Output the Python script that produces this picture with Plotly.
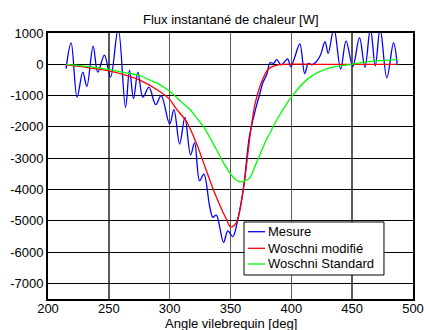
import plotly.graph_objects as go

# Mesure (blue)
mes_x = [214.8, 219, 223.9, 228.6, 231.9, 237.1, 240.9, 246.4, 251.4, 257.7, 263.7, 267, 270.3, 273.9,
         278, 283, 288.5, 293, 300, 303.5, 308.2, 312.5, 317.2, 320.5, 324.6, 328.1, 332.8, 335.5,
         338.3, 344.3, 347.8, 351.9, 356, 360.9, 365.6, 370.5, 374, 376.5, 380, 382.5, 385.5, 388,
         391.5, 394, 397, 399.5, 403, 407, 411, 414, 417, 420.5, 424, 427.7, 430.3, 435, 440.5,
         445, 450.5, 456, 460.5, 465, 469, 473, 478.5, 484, 487]
mes_y = [-140, 680, -1050, -250, -710, 580, -250, 290, -410, 1150, -1380, -190, -1100, -250,
         -1050, -730, -1290, -1000, -1910, -1450, -2550, -1700, -2900, -2500, -3720, -3510, -4520, -4890,
         -4820, -5690, -5320, -5510, -4950, -3880, -2290, -1450, -950, -600, -300, 50, 30, 150,
         -20, 60, 170, -80, 250, 650, -300, 30, -20, 80, 300, 720, 350, 1150, -150,
         750, -70, 850, -100, 1150, -50, 1150, -430, 680, 0]

# Woschni modifié (red)
mod_x = [215, 230, 250, 265, 275, 290, 300, 305, 314, 322, 329, 336, 343, 347, 350, 353, 356, 359,
         362, 366, 370, 375.6, 381, 386.6, 392, 420, 460, 487]
mod_y = [-20, -90, -210, -360, -500, -820, -1120, -1400, -1840, -2525, -3270, -4016, -4655, -4980,
         -5200, -5150, -4950, -4400, -3590, -2310, -1300, -555, -160, -45, 0, 0, 0, 0]

# Woschni Standard (green)
std_x = [215, 230, 249, 265, 275, 284, 290, 300, 311, 317, 323.5, 328, 338.6, 345, 349.6, 354,
         358.4, 362, 366, 370, 373, 379, 385, 388, 400, 414, 430, 449.6, 460.5, 467, 487]
std_y = [0, -60, -160, -280, -350, -510, -610, -860, -1250, -1460, -1780, -2000, -2740, -3200, -3480,
         -3680, -3760, -3720, -3620, -3270, -3000, -2450, -2000, -1780, -1050, -450, -130, 0, 70, 100, 160]

series_names = ["Mesure", "Woschni modifié", "Woschni Standard"]
series_colors = ["#0000ff", "#ff0000", "#00ff00"]

x_ticks = [200, 250, 300, 350, 400, 450, 500]
y_ticks = [1000, 0, -1000, -2000, -3000, -4000, -5000, -6000, -7000]

FONT = "Liberation Sans, Arial, sans-serif"

fig = go.Figure()
for (xs, ys, name, col, sm) in [(mes_x, mes_y, series_names[0], series_colors[0], 1.0),
                                (mod_x, mod_y, series_names[1], series_colors[1], 0.8),
                                (std_x, std_y, series_names[2], series_colors[2], 0.8)]:
    fig.add_trace(go.Scatter(x=xs, y=ys, mode="lines", name=name, showlegend=False,
                             line=dict(color=col, width=1.3, shape="spline", smoothing=sm)))

# custom compact legend (MATLAB style), in paper coordinates
shapes = [dict(type="rect", xref="paper", yref="paper", x0=0.537, x1=0.9205, y0=0.0902, y1=0.2895,
               line=dict(color="black", width=1), fillcolor="white", layer="above")]
annotations = [
    dict(text="Flux instantané de chaleur [W]", xref="paper", yref="paper", x=0.5, y=1,
         xanchor="center", yanchor="bottom", yshift=4, showarrow=False,
         font=dict(family=FONT, size=13, color="black")),
    dict(text="Angle vilebrequin [deg]", xref="paper", yref="paper", x=0.5, y=0,
         xanchor="center", yanchor="top", yshift=-15, showarrow=False,
         font=dict(family=FONT, size=13, color="black")),
]
row_y = [0.253, 0.1906, 0.1316]
for name, col, ry in zip(series_names, series_colors, row_y):
    shapes.append(dict(type="line", xref="paper", yref="paper", x0=0.5479, x1=0.5945, y0=ry, y1=ry,
                       line=dict(color=col, width=1.3), layer="above"))
    annotations.append(dict(text=name, xref="paper", yref="paper", x=0.598, y=ry,
                            xanchor="left", yanchor="middle", showarrow=False,
                            font=dict(family=FONT, size=13, color="black")))

fig.update_layout(
    width=424, height=330,
    margin=dict(l=48, r=11, t=33, b=31, autoexpand=False),
    paper_bgcolor="white", plot_bgcolor="white",
    font=dict(family=FONT, size=13, color="black"),
    showlegend=False,
    shapes=shapes,
    annotations=annotations,
)
fig.update_xaxes(range=[200, 500], tickvals=x_ticks, ticktext=[str(v) for v in x_ticks],
                 showgrid=True, gridcolor="#5a5a5a", gridwidth=1.5, zeroline=False,
                 showline=True, linecolor="black", linewidth=2, mirror=True,
                 ticks="", ticklabelstandoff=-4, ticklabeloverflow="allow",
                 tickfont=dict(family=FONT, size=13, color="black"))
fig.update_yaxes(range=[-7500, 1000], tickvals=y_ticks, ticktext=[str(v) for v in y_ticks],
                 showgrid=True, gridcolor="black", gridwidth=1, zeroline=False,
                 showline=True, linecolor="black", linewidth=2, mirror=True,
                 ticks="", ticklabeloverflow="allow",
                 tickfont=dict(family=FONT, size=13, color="black"))

fig.write_html("out.html", config={"displayModeBar": False, "staticPlot": True},
               post_script=("document.documentElement.style.overflow='hidden';"
                            "document.body.style.overflow='hidden';"
                            "document.body.style.margin='0';document.body.style.padding='0';"))
